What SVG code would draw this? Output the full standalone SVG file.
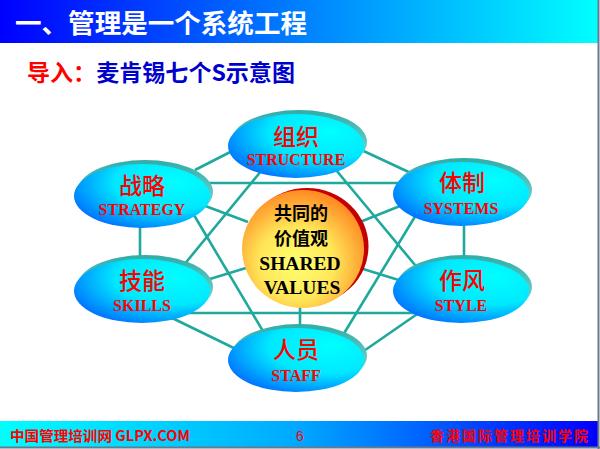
<svg xmlns="http://www.w3.org/2000/svg" width="600" height="449" viewBox="0 0 600 449">
<defs>
<linearGradient id="hdr" x1="0" y1="0" x2="1" y2="0"><stop offset="0" stop-color="#0000ff"/><stop offset="1" stop-color="#00ffff"/></linearGradient>
<linearGradient id="ftr" x1="0" y1="0" x2="1" y2="0"><stop offset="0" stop-color="#00ffff"/><stop offset="0.5" stop-color="#00a8ff"/><stop offset="1" stop-color="#0000ff"/></linearGradient>
<radialGradient id="nodeFill" cx="0.7" cy="0.3" r="0.85" fx="0.75" fy="0.28"><stop offset="0" stop-color="#00ffff"/><stop offset="0.5" stop-color="#00e8ff"/><stop offset="1" stop-color="#0060ff"/></radialGradient>
<linearGradient id="rimFill" x1="0" y1="0" x2="0" y2="1"><stop offset="0" stop-color="#30aca6"/><stop offset="1" stop-color="#8ae4e0"/></linearGradient>
<radialGradient id="coreFill" cx="0.45" cy="0.62" r="0.62"><stop offset="0" stop-color="#ffff70"/><stop offset="0.5" stop-color="#ffe658"/><stop offset="1" stop-color="#ff8a22"/></radialGradient>
</defs>
<style>
.hd{font-family:"Noto Sans CJK SC",sans-serif;font-weight:bold}
.conn line{stroke:#1ea99c;stroke-width:2.6;stroke-linecap:butt}
.rim{fill:url(#rimFill)}
.body{fill:url(#nodeFill)}
.cn{font-family:"Noto Sans CJK SC",sans-serif;font-size:23px;font-weight:500;fill:#ff0000;text-anchor:middle}
.en{font-family:"Liberation Serif","Times New Roman",serif;font-weight:bold;font-size:16px;fill:#ff0000;text-anchor:middle}
.ccn{font-family:"Noto Sans CJK SC",sans-serif;font-weight:bold;font-size:18px;fill:#000;text-anchor:middle}
.cen{font-family:"Liberation Serif","Times New Roman",serif;font-weight:bold;font-size:19.5px;fill:#000;text-anchor:middle}
.ft{font-family:"Noto Sans CJK SC",sans-serif;font-weight:bold;font-size:14px;fill:#ff0000}
</style>
<rect x="0" y="0" width="600" height="449" fill="#ffffff"/>
<rect x="0" y="0" width="598" height="43" fill="url(#hdr)"/>
<text class="hd" x="15" y="33" font-size="26" fill="#ffffff" textLength="292" lengthAdjust="spacingAndGlyphs">一、管理是一个系统工程</text>
<text class="hd" x="27" y="81" font-size="23" textLength="268" lengthAdjust="spacingAndGlyphs"><tspan fill="#ff0000">导入：</tspan><tspan fill="#0000cc">麦肯锡七个S示意图</tspan></text>

<g id="connectors" class="conn">
<line x1="195" y1="170" x2="240" y2="147"/>
<line x1="355" y1="147" x2="415" y2="175"/>
<line x1="205" y1="183" x2="405" y2="183"/>
<line x1="262" y1="170" x2="183" y2="266"/>
<line x1="336" y1="170" x2="420" y2="271"/>
<line x1="191" y1="210" x2="270" y2="343"/>
<line x1="419" y1="210" x2="340" y2="340"/>
<line x1="140" y1="220" x2="140" y2="262"/>
<line x1="464" y1="220" x2="464" y2="262"/>
<line x1="185" y1="313" x2="422" y2="313"/>
<line x1="168" y1="316" x2="242" y2="352"/>
<line x1="423" y1="310" x2="358" y2="355"/>
<line x1="200" y1="204" x2="248" y2="222"/>
<line x1="360" y1="222" x2="405" y2="204"/>
<line x1="200" y1="282" x2="246" y2="268"/>
<line x1="360" y1="268" x2="405" y2="282"/>
<line x1="300" y1="300" x2="300" y2="335"/>
</g>

<g id="node-structure">
<ellipse class="rim" cx="299" cy="142" rx="68" ry="32"/>
<ellipse class="body" cx="296" cy="146" rx="68" ry="32"/>
<text class="cn" x="296" y="145">组织</text>
<text class="en" x="296" y="165">STRUCTURE</text>
</g>
<g id="node-strategy">
<ellipse class="rim" cx="145" cy="192" rx="68" ry="32"/>
<ellipse class="body" cx="142" cy="196" rx="68" ry="32"/>
<text class="cn" x="142" y="194">战略</text>
<text class="en" x="142" y="215">STRATEGY</text>
</g>
<g id="node-systems">
<ellipse class="rim" cx="464" cy="190" rx="68" ry="32"/>
<ellipse class="body" cx="461" cy="194" rx="68" ry="32"/>
<text class="cn" x="462" y="191">体制</text>
<text class="en" x="461" y="214">SYSTEMS</text>
</g>
<g id="node-skills">
<ellipse class="rim" cx="145" cy="287" rx="68" ry="32"/>
<ellipse class="body" cx="142" cy="291" rx="68" ry="32"/>
<text class="cn" x="142" y="289">技能</text>
<text class="en" x="142" y="311">SKILLS</text>
</g>
<g id="node-style">
<ellipse class="rim" cx="464" cy="287" rx="68" ry="32"/>
<ellipse class="body" cx="461" cy="291" rx="68" ry="32"/>
<text class="cn" x="462" y="289">作风</text>
<text class="en" x="461" y="311">STYLE</text>
</g>
<g id="node-staff">
<ellipse class="rim" cx="299" cy="356" rx="68" ry="32"/>
<ellipse class="body" cx="296" cy="360" rx="68" ry="32"/>
<text class="cn" x="296" y="358">人员</text>
<text class="en" x="296" y="381">STAFF</text>
</g>
<g id="node-shared-values">
<ellipse cx="307" cy="246.5" rx="61.5" ry="58.5" fill="#c40000"/>
<ellipse cx="303" cy="249" rx="61" ry="59" fill="url(#coreFill)"/>
<text class="ccn" x="301" y="220">共同的</text>
<text class="ccn" x="301" y="245">价值观</text>
<text class="cen" x="300" y="270">SHARED</text>
<text class="cen" x="302" y="294">VALUES</text>
</g>

<rect x="0" y="421" width="598" height="26" fill="url(#ftr)"/>
<text class="ft" x="10" y="441" textLength="180" lengthAdjust="spacingAndGlyphs">中国管理培训网 GLPX.COM</text>
<text x="300" y="441" font-family="Liberation Sans, sans-serif" font-size="14" fill="#ff0000" text-anchor="middle">6</text>
<text class="ft" x="430" y="441" textLength="158" lengthAdjust="spacing">香港国际管理培训学院</text>
<line x1="598.5" y1="0" x2="598.5" y2="449" stroke="#6a7890" stroke-width="2"/>
<line x1="0" y1="447.5" x2="600" y2="447.5" stroke="#6a7890" stroke-width="2"/>
</svg>
